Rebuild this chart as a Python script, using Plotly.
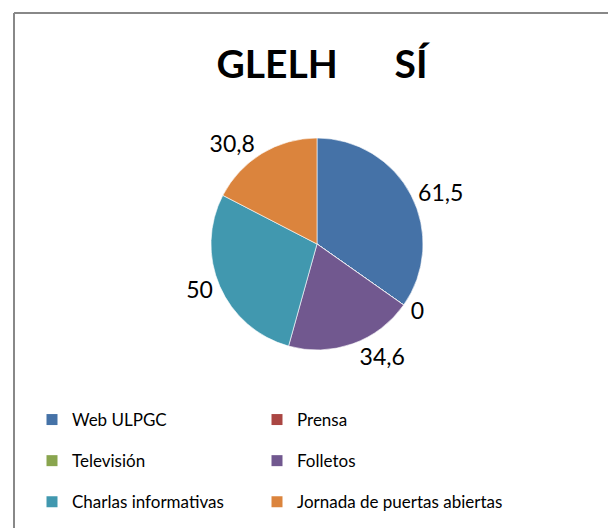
import plotly.graph_objects as go

title_text = "GLELH\u00a0\u00a0\u00a0\u00a0\u00a0\u00a0SÍ"
categories = ["Web ULPGC", "Prensa", "Televisión", "Folletos",
              "Charlas informativas", "Jornada de puertas abiertas"]
values = [61.5, 0, 0, 34.6, 50, 30.8]
colors = ["#4572A7", "#AA4643", "#89A54E", "#71588F", "#4198AF", "#DB843D"]

# the two zero-value labels sit on top of each other in the original: draw one
templates = []
seen_zero = False
for v in values:
    if v == 0 and seen_zero:
        templates.append("")
    else:
        templates.append("%{value}")
    if v == 0:
        seen_zero = True

W, H = 616, 528
FONT = "Lato"

fig = go.Figure()

cx, cy, r = 309, 236, 106
fig.add_trace(go.Pie(
    labels=categories, values=values, sort=False, direction="clockwise",
    rotation=0, marker=dict(colors=colors, line=dict(color="white", width=0.6)),
    texttemplate=templates, textposition="outside",
    textfont=dict(family=FONT, size=23, color="#000000"),
    domain=dict(x=[(cx - r) / W, (cx + r) / W], y=[1 - (cy + r) / H, 1 - (cy - r) / H]),
    showlegend=False, hoverinfo="label+value",
))

# legend: two columns (left: items 0,2,4 ; right: items 1,3,5)
for i, (name, col) in enumerate(zip(categories, colors)):
    fig.add_trace(go.Scatter(
        x=[None], y=[None], mode="markers", name=name,
        marker=dict(symbol="square", size=11, color=col),
        legend="legend" if i % 2 == 0 else "legend2",
        legendgroup=f"g{i}", showlegend=True, hoverinfo="skip",
    ))

top_y = 394
leg_common = dict(orientation="v", xanchor="left", yanchor="top",
                  tracegroupgap=16,
                  font=dict(family=FONT, size=17, color="#000000"),
                  bgcolor="rgba(0,0,0,0)", itemclick=False, itemdoubleclick=False,
                  traceorder="grouped")

fig.update_layout(
    width=W, height=H, margin=dict(l=0, r=0, t=0, b=0),
    paper_bgcolor="white", plot_bgcolor="white",
    separators=",.",
    font=dict(family=FONT),
    title=dict(text=title_text, x=314 / W, xanchor="center", xref="paper",
               y=1 - 56 / H, yanchor="middle", yref="container",
               font=dict(family=FONT, size=39, color="#000000", weight="bold")),
    xaxis=dict(visible=False), yaxis=dict(visible=False),
    legend=dict(x=24 / W, y=1 - top_y / H, **leg_common),
    legend2=dict(x=249 / W, y=1 - top_y / H, **leg_common),
    shapes=[
        dict(type="line", xref="paper", yref="paper", x0=6 / W, x1=6 / W, y0=-0.1, y1=1 - 5 / H,
             line=dict(color="#888888", width=2)),
        dict(type="line", xref="paper", yref="paper", x0=6 / W, x1=1.1, y0=1 - 5 / H, y1=1 - 5 / H,
             line=dict(color="#888888", width=2)),
    ],
)

fig.write_html("out.html")
